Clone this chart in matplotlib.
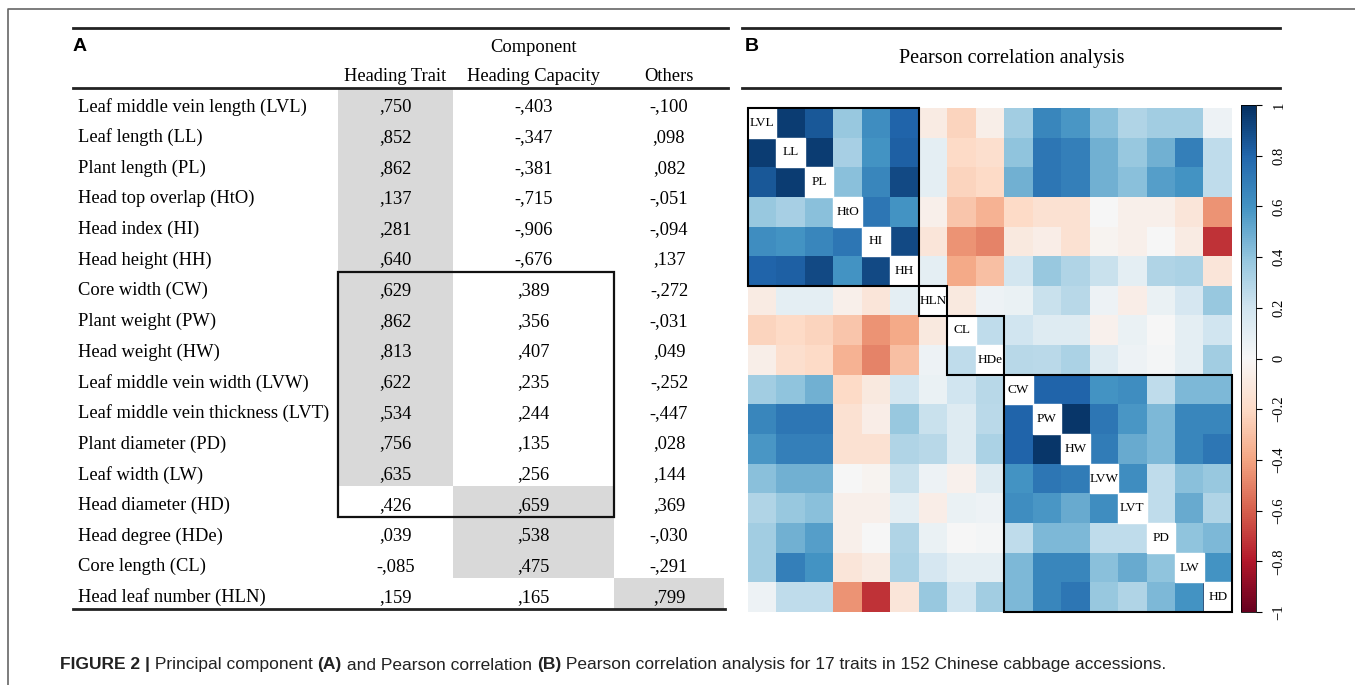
import numpy as np
import matplotlib.pyplot as plt
from matplotlib.patches import Rectangle
from matplotlib import font_manager

# ---------------- data ----------------
traits = ["Leaf middle vein length (LVL)", "Leaf length (LL)", "Plant length (PL)",
          "Head top overlap (HtO)", "Head index (HI)", "Head height (HH)",
          "Core width (CW)", "Plant weight (PW)", "Head weight (HW)",
          "Leaf middle vein width (LVW)", "Leaf middle vein thickness (LVT)",
          "Plant diameter (PD)", "Leaf width (LW)", "Head diameter (HD)",
          "Head degree (HDe)", "Core length (CL)", "Head leaf number (HLN)"]
heading_trait = [.750, .852, .862, .137, .281, .640, .629, .862, .813, .622, .534, .756, .635, .426, .039, -.085, .159]
heading_capacity = [-.403, -.347, -.381, -.715, -.906, -.676, .389, .356, .407, .235, .244, .135, .256, .659, .538, .475, .165]
others = [-.100, .098, .082, -.051, -.094, .137, -.272, -.031, .049, -.252, -.447, .028, .144, .369, -.030, -.291, .799]
# component each trait is assigned to (0 = trait, 1 = capacity, 2 = others)
assigned = [0] * 13 + [1] * 3 + [2]
components = ["Heading Trait", "Heading Capacity", "Others"]

abbr = ["LVL", "LL", "PL", "HtO", "HI", "HH", "HLN", "CL", "HDe",
        "CW", "PW", "HW", "LVW", "LVT", "PD", "LW", "HD"]
# upper triangle of the correlation matrix, row by row
upper = [
    [.95, .85, .38, .62, .80, -.08, -.22, -.06, .35, .65, .58, .42, .30, .35, .35, .05],
    [.95, .33, .60, .82, .10, -.20, -.17, .40, .72, .68, .48, .38, .48, .68, .25],
    [.42, .65, .90, .10, -.22, -.20, .48, .72, .68, .48, .42, .55, .60, .25],
    [.72, .60, -.05, -.28, -.35, -.20, -.15, -.15, .00, -.05, -.05, -.12, -.45],
    [.90, -.12, -.45, -.50, -.10, -.07, -.15, -.03, -.05, .00, -.08, -.72],
    [.10, -.38, -.30, .18, .38, .30, .22, .10, .30, .32, -.12],
    [-.10, .05, .07, .22, .28, .05, -.07, .07, .17, .38],
    [.25, .20, .13, .13, -.04, .07, .00, .10, .20],
    [.28, .27, .32, .13, .05, .02, .10, .35],
    [.80, .80, .60, .62, .25, .45, .45],
    [.97, .72, .58, .45, .65, .65],
    [.70, .50, .45, .65, .72],
    [.62, .25, .42, .38],
    [.25, .50, .30],
    [.40, .45],
    [.60],
]
clusters = [(0, 6), (6, 7), (7, 9), (9, 17)]

caption = [("FIGURE 2 |", "bold"), (" Principal component ", "normal"), ("(A)", "bold"),
           (" and Pearson correlation ", "normal"), ("(B)", "bold"),
           (" Pearson correlation analysis for 17 traits in 152 Chinese cabbage accessions.", "normal")]

n = len(abbr)
corr = np.eye(n)
for i, row in enumerate(upper):
    for k, v in enumerate(row):
        j = i + 1 + k
        corr[i, j] = v
        corr[j, i] = v


def fmt(v):
    s = f"{v:.3f}"
    return s.replace("0.", ",")


W, H = 1355, 685
fig = plt.figure(figsize=(W / 100, H / 100), dpi=100)
serif = "Liberation Serif"
fs = 13.3

# narrow sans for the caption if it is there
names = {f.name for f in font_manager.fontManager.ttflist}
cap_font = "Liberation Sans Narrow" if "Liberation Sans Narrow" in names else "Liberation Sans"

# page-level axes in pixel coordinates
ax0 = fig.add_axes([0, 0, 1, 1])
ax0.set_xlim(0, W)
ax0.set_ylim(H, 0)
ax0.axis("off")

# frame
ax0.plot([8, 8, W], [H, 9, 9], color="#666666", lw=1.2)

# ---------------- panel A: table ----------------
x_lab = 78
col_edges = [338, 453, 614, 724]
col_cent = [(col_edges[i] + col_edges[i + 1]) / 2 for i in range(3)]
row_top0, row_h = 88, 30.65

for i in range(len(traits)):
    c = assigned[i]
    ax0.add_patch(Rectangle((col_edges[c], row_top0 + i * row_h), col_edges[c + 1] - col_edges[c],
                            row_h, color="#d9d9d9", lw=0, zorder=1))

for y in (28, 88):
    ax0.plot([73, 728], [y, y], color="#222222", lw=2, zorder=3)
ax0.plot([73, 725], [609, 609], color="#222222", lw=2, zorder=3)

ax0.text(73, 46, "A", fontsize=14, fontweight="bold", family="Liberation Sans", va="center")
ax0.text(col_cent[1], 47, "Component", fontsize=fs, family=serif, ha="center", va="center")
for c, name in enumerate(components):
    ax0.text(col_cent[c], 76, name, fontsize=fs, family=serif, ha="center", va="center")

for i, name in enumerate(traits):
    yc = row_top0 + (i + 0.5) * row_h + 3.5
    ax0.text(x_lab, yc, name, fontsize=fs, family=serif, va="center", zorder=4)
    for c, vals in enumerate((heading_trait, heading_capacity, others)):
        ax0.text(col_cent[c], yc, fmt(vals[i]), fontsize=fs, family=serif,
                 ha="center", va="center", zorder=4)

ax0.add_patch(Rectangle((338, row_top0 + 6 * row_h), 614 - 338, 8 * row_h,
                        fill=False, ec="#111111", lw=1.6, zorder=5))

# ---------------- panel B: correlation heatmap ----------------
for y in (28, 88):
    ax0.plot([742, 1280], [y, y], color="#222222", lw=2, zorder=3)
ax0.text(745, 46, "B", fontsize=14, fontweight="bold", family="Liberation Sans", va="center")
ax0.text(1012, 58, "Pearson correlation analysis", fontsize=14.5, family=serif,
         ha="center", va="center")

hx0, hx1, hy0, hy1 = 748, 1232, 108, 612
ax1 = fig.add_axes([hx0 / W, 1 - hy1 / H, (hx1 - hx0) / W, (hy1 - hy0) / H])
im = ax1.imshow(corr, cmap="RdBu", vmin=-1, vmax=1, aspect="auto", interpolation="nearest")
ax1.set_xticks([])
ax1.set_yticks([])
for s in ax1.spines.values():
    s.set_visible(False)
for i, lab in enumerate(abbr):
    ax1.add_patch(Rectangle((i - 0.5, i - 0.5), 1, 1, color="white", zorder=2))
    ax1.text(i, i, lab, fontsize=9.5, family=serif, ha="center", va="center", zorder=3)
for a, b in clusters:
    ax1.add_patch(Rectangle((a - 0.5, a - 0.5), b - a, b - a, fill=False,
                            ec="black", lw=1.5, zorder=4, clip_on=False))

cax = fig.add_axes([1241 / W, 1 - 612 / H, 15 / W, 507 / H])
ticks = np.round(np.arange(-1, 1.01, 0.2), 1)
cb = fig.colorbar(im, cax=cax, ticks=ticks)
cb.outline.set_linewidth(0.6)
cb.ax.set_yticklabels([("\u2212" if t < 0 else "") + f"{abs(t):g}" for t in ticks],
                      rotation=90, va="center", family=serif, fontsize=10.5)
cb.ax.tick_params(length=4, width=0.8, pad=8)

# ---------------- caption ----------------
renderer = fig.canvas.get_renderer()
full = ax0.text(0, 665, "".join(t for t, _ in caption), fontsize=14, family=cap_font,
                color="#222222", va="center")
scale = (1165 - 60) / full.get_window_extent(renderer).width
full.remove()
x = 60
for txt, wt in caption:
    p = ax0.text(x, 665, txt, fontsize=14 * scale, family=cap_font, fontweight=wt,
                 color="#222222", va="center")
    x += p.get_window_extent(renderer).width

fig.savefig("out.png", dpi=100)
